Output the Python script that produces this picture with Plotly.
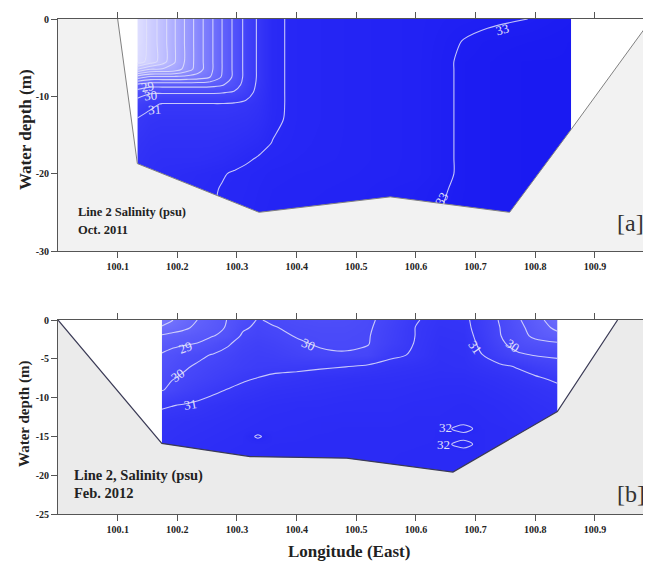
import plotly.graph_objects as go

# ---------------- Panel a : Oct. 2011 ----------------
SAL_A_LON = [100.133, 100.155, 100.175, 100.195, 100.215, 100.235, 100.255, 100.275, 100.295, 100.315,
             100.335, 100.36, 100.40, 100.50, 100.60, 100.65, 100.68, 100.72, 100.78, 100.86]
SAL_A_DEPTH = [0, -3, -5.5, -6.5, -7.5, -8.5, -9.5, -11, -13, -16, -18, -20, -22, -25]
SAL_A = [
    [19.1, 20.4, 21.5, 22.9, 24.2, 25.5, 26.7, 28.0, 29.2, 30.3, 31.1, 31.85, 32.15, 32.4, 32.6, 32.75, 32.8, 32.9, 32.98, 33.2],
    [19.1, 20.4, 21.5, 22.9, 24.2, 25.5, 26.7, 28.0, 29.2, 30.3, 31.1, 31.85, 32.15, 32.4, 32.6, 32.85, 33.03, 33.15, 33.2, 33.3],
    [19.5, 20.4, 21.5, 22.9, 24.2, 25.5, 26.7, 28.0, 29.2, 30.3, 31.1, 31.85, 32.15, 32.4, 32.6, 32.9, 33.12, 33.2, 33.3, 33.3],
    [22.0, 23.0, 23.1, 23.4, 24.4, 25.5, 26.7, 28.0, 29.2, 30.3, 31.1, 31.85, 32.15, 32.4, 32.6, 32.9, 33.12, 33.2, 33.3, 33.3],
    [25.5, 26.2, 26.2, 26.2, 26.3, 26.5, 27.0, 28.1, 29.2, 30.3, 31.1, 31.85, 32.15, 32.4, 32.6, 32.9, 33.12, 33.2, 33.3, 33.3],
    [28.2, 28.6, 28.6, 28.6, 28.6, 28.6, 28.65, 28.9, 29.5, 30.4, 31.15, 31.85, 32.15, 32.4, 32.6, 32.9, 33.12, 33.2, 33.3, 33.3],
    [29.5, 29.9, 29.9, 29.9, 29.9, 29.9, 29.9, 29.95, 30.1, 30.6, 31.25, 31.85, 32.15, 32.4, 32.6, 32.9, 33.12, 33.2, 33.3, 33.3],
    [30.5, 30.85, 31.05, 31.05, 31.05, 31.05, 31.05, 31.05, 31.1, 31.2, 31.4, 31.85, 32.15, 32.4, 32.6, 32.9, 33.12, 33.2, 33.3, 33.3],
    [31.05, 31.25, 31.3, 31.3, 31.3, 31.3, 31.3, 31.3, 31.35, 31.4, 31.55, 31.88, 32.15, 32.4, 32.6, 32.9, 33.12, 33.2, 33.3, 33.3],
    [31.3, 31.45, 31.5, 31.5, 31.5, 31.5, 31.5, 31.55, 31.6, 31.7, 31.8, 32.02, 32.2, 32.4, 32.6, 32.9, 33.12, 33.2, 33.3, 33.3],
    [31.4, 31.55, 31.6, 31.6, 31.6, 31.6, 31.65, 31.7, 31.8, 31.92, 32.03, 32.15, 32.25, 32.4, 32.6, 32.9, 33.12, 33.2, 33.3, 33.3],
    [31.5, 31.6, 31.7, 31.75, 31.8, 31.85, 31.9, 31.96, 32.05, 32.12, 32.2, 32.3, 32.35, 32.45, 32.6, 32.9, 33.12, 33.2, 33.3, 33.3],
    [31.6, 31.7, 31.75, 31.8, 31.85, 31.9, 31.93, 32.03, 32.1, 32.15, 32.25, 32.35, 32.4, 32.5, 32.75, 32.98, 33.12, 33.2, 33.3, 33.3],
    [31.6, 31.7, 31.8, 31.85, 31.9, 31.95, 31.97, 32.05, 32.1, 32.2, 32.3, 32.4, 32.45, 32.55, 32.8, 33.04, 33.15, 33.2, 33.3, 33.3],
]
BATHY_A_LON = [100.1, 100.133, 100.337, 100.557, 100.757, 100.86, 100.995]
BATHY_A_DEPTH = [0, -18.7, -25, -23, -25, -14.3, 0]

# ---------------- Panel b : Feb. 2012 ----------------
SAL_B_LON = [100.174, 100.19, 100.21, 100.235, 100.26, 100.285, 100.31, 100.335, 100.36, 100.40, 100.44,
             100.48, 100.52, 100.56, 100.60, 100.64, 100.68, 100.71, 100.74, 100.77, 100.80, 100.837]
SAL_B_DEPTH = [0, -1, -2, -3, -4.5, -6, -7.5, -9, -11, -13, -14, -15, -16, -17, -20]
SAL_B = [
    [26.5, 26.93, 27.43, 28.04, 28.54, 29.05, 29.6, 30.05, 29.9, 29.7, 29.6, 29.65, 29.85, 30.35, 30.95, 31.25, 31.2, 30.6, 29.95, 29.15, 28.4, 27.4],
    [27.15, 27.4, 27.75, 28.3, 28.7, 29.1, 29.85, 30.2, 30.05, 29.85, 29.75, 29.75, 29.9, 30.45, 31.02, 31.3, 31.25, 30.65, 30.02, 29.3, 28.6, 27.75],
    [28.1, 28.3, 28.5, 28.75, 28.95, 29.3, 30.15, 30.3, 30.2, 29.95, 29.85, 29.85, 29.95, 30.5, 31.02, 31.35, 31.3, 30.75, 30.05, 29.45, 28.75, 28.3],
    [28.5, 28.7, 28.85, 29.02, 29.45, 29.9, 30.3, 30.45, 30.35, 30.1, 29.9, 29.9, 29.97, 30.55, 31.05, 31.4, 31.35, 30.85, 30.2, 29.6, 29.3, 29.1],
    [29.1, 29.35, 29.6, 29.85, 30.05, 30.25, 30.5, 30.6, 30.55, 30.35, 30.15, 30.05, 30.15, 30.85, 31.1, 31.45, 31.4, 31.02, 30.55, 30.15, 29.95, 29.85],
    [29.4, 29.65, 29.9, 30.1, 30.3, 30.45, 30.6, 30.7, 30.75, 30.8, 30.9, 30.98, 31.15, 31.3, 31.4, 31.5, 31.45, 31.3, 31.15, 30.95, 30.65, 30.35],
    [29.7, 29.95, 30.1, 30.3, 30.5, 30.7, 30.88, 31.02, 31.15, 31.25, 31.35, 31.4, 31.45, 31.5, 31.55, 31.6, 31.6, 31.5, 31.4, 31.25, 31.1, 30.85],
    [29.95, 30.15, 30.4, 30.65, 30.85, 31.03, 31.2, 31.3, 31.4, 31.45, 31.5, 31.55, 31.6, 31.6, 31.65, 31.7, 31.7, 31.65, 31.55, 31.45, 31.35, 31.2],
    [30.9, 30.97, 31.05, 31.15, 31.3, 31.4, 31.5, 31.55, 31.6, 31.65, 31.65, 31.7, 31.7, 31.7, 31.75, 31.75, 31.8, 31.75, 31.7, 31.6, 31.5, 31.4],
    [31.3, 31.35, 31.4, 31.45, 31.5, 31.55, 31.6, 31.65, 31.7, 31.7, 31.75, 31.75, 31.75, 31.75, 31.8, 31.8, 31.85, 31.8, 31.75, 31.7, 31.6, 31.5],
    [31.35, 31.4, 31.45, 31.5, 31.55, 31.6, 31.65, 31.7, 31.7, 31.75, 31.75, 31.8, 31.8, 31.8, 31.82, 31.85, 32.15, 31.85, 31.8, 31.75, 31.65, 31.55],
    [31.4, 31.45, 31.5, 31.55, 31.6, 31.65, 31.7, 32.08, 31.75, 31.75, 31.8, 31.8, 31.8, 31.8, 31.82, 31.85, 31.85, 31.85, 31.8, 31.75, 31.7, 31.6],
    [31.45, 31.5, 31.55, 31.6, 31.65, 31.7, 31.72, 31.75, 31.78, 31.8, 31.8, 31.82, 31.82, 31.82, 31.84, 31.85, 32.15, 31.85, 31.8, 31.75, 31.7, 31.65],
    [31.5, 31.55, 31.6, 31.65, 31.7, 31.72, 31.75, 31.78, 31.8, 31.82, 31.82, 31.84, 31.84, 31.84, 31.85, 31.85, 31.85, 31.85, 31.8, 31.75, 31.7, 31.65],
    [31.55, 31.6, 31.65, 31.7, 31.72, 31.75, 31.78, 31.8, 31.82, 31.84, 31.85, 31.85, 31.85, 31.85, 31.86, 31.86, 31.86, 31.85, 31.8, 31.75, 31.7, 31.65],
]
BATHY_B_LON = [100.0, 100.174, 100.322, 100.484, 100.662, 100.837, 100.938]
BATHY_B_DEPTH = [0, -15.9, -17.6, -17.8, -19.6, -11.8, 0]

# ---------------- Axis ticks ----------------
LON_TICKS = [100.1, 100.2, 100.3, 100.4, 100.5, 100.6, 100.7, 100.8, 100.9]
LON_TICK_TEXT = ["100.1", "100.2", "100.3", "100.4", "100.5", "100.6", "100.7", "100.8", "100.9"]
DEPTH_TICKS_A = [0, -10, -20, -30]
DEPTH_TEXT_A = ["0", "-10", "-20", "-30"]
DEPTH_TICKS_B = [0, -5, -10, -15, -20, -25]
DEPTH_TEXT_B = ["0", "-5", "-10", "-15", "-20", "-25"]

# Contour labels (text, lon, depth, angle)
LABELS_A = [("29", 100.150, -8.7, -10), ("30", 100.155, -9.9, -5), ("31", 100.162, -11.7, -5),
            ("33", 100.745, -1.4, -15), ("33", 100.642, -23.3, -60)]
LABELS_B = [("29", 100.214, -3.6, -20), ("30", 100.200, -7.1, -35), ("31", 100.222, -10.9, -10),
            ("30", 100.420, -3.1, 25), ("31", 100.700, -3.5, 55), ("30", 100.762, -3.3, 35),
            ("32", 100.650, -13.8, 0), ("32", 100.647, -16.1, 0)]

SERIF = "Liberation Serif"
CSCALE = [
    [0.0, "rgb(235,235,255)"],
    [0.125, "rgb(212,212,255)"],
    [0.3125, "rgb(172,172,255)"],
    [0.5, "rgb(128,128,253)"],
    [0.625, "rgb(98,98,251)"],
    [0.75, "rgb(72,72,249)"],
    [0.8125, "rgb(56,56,247)"],
    [0.875, "rgb(40,40,245)"],
    [0.9375, "rgb(30,30,243)"],
    [1.0, "rgb(18,18,238)"],
]
LINE_COL = "rgba(225,225,250,0.85)"

# page body has an 8px margin: figure is 643x555 placed at (8, 8)
W, H = 643, 555
ML, MT, MB, MR = 50, 11, 49, 0
PW, PH = W - ML - MR, H - MT - MB   # 593 x 495 plot area (page px 58..651, 19..514)


def px_x(p):  # page pixel -> paper x
    return (p - 58) / PW


def px_y(p):  # page pixel -> paper y
    return (514 - p) / PH


fig = go.Figure()

fig.add_trace(go.Contour(
    x=SAL_A_LON, y=SAL_A_DEPTH, z=SAL_A, xaxis="x", yaxis="y",
    colorscale=CSCALE, zmin=18, zmax=34, showscale=False,
    contours=dict(start=20, end=33, size=1, coloring="heatmap"),
    line=dict(color=LINE_COL, width=1.1, smoothing=0.9), hoverinfo="skip"))

fig.add_trace(go.Contour(
    x=SAL_B_LON, y=SAL_B_DEPTH, z=SAL_B, xaxis="x2", yaxis="y2",
    colorscale=CSCALE, zmin=18, zmax=34, showscale=False,
    contours=dict(start=27, end=32, size=1, coloring="heatmap"),
    line=dict(color=LINE_COL, width=1.1, smoothing=0.9), hoverinfo="skip"))

# seabed fills
fig.add_trace(go.Scatter(
    x=[100.0] + BATHY_A_LON + [101.0, 101.0, 100.0],
    y=[0] + BATHY_A_DEPTH + [0, -31, -31],
    fill="toself", fillcolor="#f2f2f2", mode="lines", line=dict(width=0),
    xaxis="x", yaxis="y", hoverinfo="skip", showlegend=False))
fig.add_trace(go.Scatter(
    x=BATHY_A_LON, y=BATHY_A_DEPTH, mode="lines", line=dict(color="#808080", width=1),
    xaxis="x", yaxis="y", hoverinfo="skip", showlegend=False))

fig.add_trace(go.Scatter(
    x=BATHY_B_LON + [101.0, 101.0, 100.0],
    y=BATHY_B_DEPTH + [0, -26, -26],
    fill="toself", fillcolor="#ebebeb", mode="lines", line=dict(width=0),
    xaxis="x2", yaxis="y2", hoverinfo="skip", showlegend=False))
fig.add_trace(go.Scatter(
    x=BATHY_B_LON, y=BATHY_B_DEPTH, mode="lines", line=dict(color="#3a3a55", width=1.2),
    xaxis="x2", yaxis="y2", hoverinfo="skip", showlegend=False))

axis_common = dict(showgrid=False, zeroline=False, showline=True, linecolor="#555555", linewidth=1,
                   ticks="outside", ticklen=6, tickcolor="#555555",
                   tickfont=dict(family=SERIF, size=10, color="#222222", weight="bold"))

fig.update_layout(
    width=W, height=H,
    margin=dict(l=ML, r=MR, t=MT, b=MB, pad=0),
    paper_bgcolor="white", plot_bgcolor="white",
    showlegend=False,
    xaxis=dict(domain=[0, 1], range=[100.0, 100.994], anchor="y", tickvals=LON_TICKS,
               ticktext=LON_TICK_TEXT, mirror="allticks", **axis_common),
    yaxis=dict(domain=[px_y(251), 1.0], range=[-30, 0], anchor="x", tickvals=DEPTH_TICKS_A,
               ticktext=DEPTH_TEXT_A, **axis_common),
    xaxis2=dict(domain=[0, 1], range=[100.0, 100.994], anchor="y2", tickvals=LON_TICKS,
                ticktext=LON_TICK_TEXT, mirror="allticks", **axis_common),
    yaxis2=dict(domain=[0, px_y(320)], range=[-25, 0], anchor="x2", tickvals=DEPTH_TICKS_B,
                ticktext=DEPTH_TEXT_B, **axis_common),
)

ann = []
# axis titles
ann.append(dict(text="Water depth (m)", xref="paper", yref="paper", x=px_x(25), y=px_y(130),
                xanchor="center", yanchor="middle",
                textangle=-90, showarrow=False, font=dict(family=SERIF, size=17, color="#222", weight="bold")))
ann.append(dict(text="Water depth (m)", xref="paper", yref="paper", x=px_x(24), y=px_y(414),
                xanchor="center", yanchor="middle",
                textangle=-90, showarrow=False, font=dict(family=SERIF, size=15, color="#222", weight="bold")))
ann.append(dict(text="Longitude (East)", xref="paper", yref="paper", x=px_x(349), y=px_y(551),
                xanchor="center", yanchor="middle",
                showarrow=False, font=dict(family=SERIF, size=17, color="#222", weight="bold")))
# panel annotations
ann.append(dict(text="Line 2 Salinity (psu)", xref="x", yref="y", x=100.031, y=-24.9, xanchor="left",
                yanchor="middle", showarrow=False, font=dict(family=SERIF, size=12.5, color="#222", weight="bold")))
ann.append(dict(text="Oct. 2011", xref="x", yref="y", x=100.031, y=-27.3, xanchor="left",
                yanchor="middle", showarrow=False, font=dict(family=SERIF, size=12.5, color="#222", weight="bold")))
ann.append(dict(text="[a]", xref="x", yref="y", x=100.96, y=-26.4, showarrow=False,
                xanchor="center", yanchor="middle", font=dict(family=SERIF, size=24, color="#333")))
ann.append(dict(text="Line 2, Salinity (psu)", xref="x2", yref="y2", x=100.024, y=-20.0, xanchor="left",
                yanchor="middle", showarrow=False, font=dict(family=SERIF, size=14.5, color="#222", weight="bold")))
ann.append(dict(text="Feb. 2012", xref="x2", yref="y2", x=100.024, y=-22.3, xanchor="left",
                yanchor="middle", showarrow=False, font=dict(family=SERIF, size=14.5, color="#222", weight="bold")))
ann.append(dict(text="[b]", xref="x2", yref="y2", x=100.96, y=-22.4, showarrow=False,
                xanchor="center", yanchor="middle", font=dict(family=SERIF, size=24, color="#333")))
for t, lx, ly, ang in LABELS_A:
    ann.append(dict(text=t, xref="x", yref="y", x=lx, y=ly, textangle=ang, showarrow=False,
                    font=dict(family=SERIF, size=13, color="rgb(225,225,250)"), borderpad=0))
for t, lx, ly, ang in LABELS_B:
    ann.append(dict(text=t, xref="x2", yref="y2", x=lx, y=ly, textangle=ang, showarrow=False,
                    font=dict(family=SERIF, size=13, color="rgb(225,225,250)"), borderpad=0))
fig.update_layout(annotations=ann)

fig.write_html("out.html")
